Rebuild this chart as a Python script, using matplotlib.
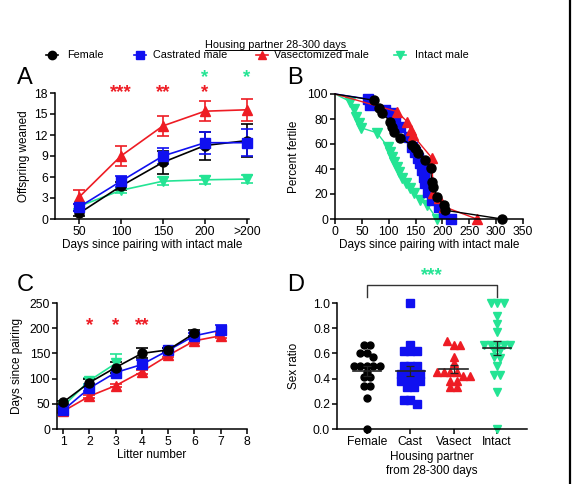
import matplotlib
matplotlib.use("Agg")
import matplotlib.pyplot as plt
from matplotlib.lines import Line2D
import numpy as np

plt.rcParams['font.family'] = ['Liberation Sans', 'DejaVu Sans']
plt.rcParams['font.size'] = 8.5

# colours / groups
groups = ["Female", "Castrated male", "Vasectomized male", "Intact male"]
colors = ["black", "#1010f0", "#ee1c24", "#24e494"]
markers = ["o", "s", "^", "v"]

# ---- panel A : offspring weaned
a_cats = ["50", "100", "150", "200", ">200"]
a_female = [0.8, 4.7, 8.1, 10.5, 11.2]
a_female_err = [0.4, 0.6, 1.6, 2.0, 2.4]
a_cast = [1.7, 5.4, 9.0, 10.9, 10.9]
a_cast_err = [0.5, 0.8, 1.2, 1.6, 1.9]
a_vasect = [3.1, 9.0, 13.3, 15.4, 15.6]
a_vasect_err = [1.0, 1.4, 1.4, 1.4, 1.6]
a_intact = [1.8, 4.1, 5.4, 5.6, 5.7]
a_intact_err = [0.3, 0.4, 0.6, 0.6, 0.6]

# ---- panel B : percent fertile (time, percent)
b_female_t = [0, 72, 81, 87, 103, 106, 109, 121, 143, 149, 155, 168, 178, 180, 183, 190, 202, 205, 311]
b_female_p = [100, 95, 89, 85, 78, 74, 70, 65, 59, 57, 53, 47, 41, 30, 26, 18, 11, 7, 0]
b_cast_t = [0, 62, 65, 94, 106, 112, 121, 137, 143, 149, 155, 158, 162, 165, 168, 174, 180, 193, 202, 216]
b_cast_p = [100, 96, 91, 87, 85, 78, 74, 66, 58, 54, 49, 45, 39, 34, 29, 22, 15, 10, 5, 0]
b_vasect_t = [0, 115, 134, 141, 145, 180, 183, 193, 202, 264]
b_vasect_p = [100, 86, 78, 71, 67, 49, 21, 17, 10, 0]
b_intact_t = [0, 28, 35, 40, 45, 48, 78, 98, 102, 106, 110, 115, 120, 125, 132, 140, 148, 158, 172, 190]
b_intact_p = [100, 94, 88, 82, 77, 73, 69, 58, 54, 50, 46, 42, 38, 33, 29, 25, 21, 15, 11, 0]

# ---- panel C : days since pairing per litter
c_female = [53, 92, 122, 150, 157, 190]
c_female_err = [3, 8, 10, 10, 4, 6]
c_cast = [37, 81, 112, 128, 156, 185, 196]
c_cast_err = [3, 5, 6, 8, 4, 5, 10]
c_vasect = [35, 65, 86, 114, 146, 175, 185]
c_vasect_err = [3, 3, 3, 4, 4, 5, 5]
c_intact = [45, 96, 130]
c_intact_err = [3, 6, 18]

# ---- panel D : sex ratio
d_cats = ["Female", "Cast", "Vasect", "Intact"]
d_female = [0.67, 0.67, 0.6, 0.6, 0.57, 0.5, 0.5, 0.5, 0.5, 0.5, 0.455, 0.41, 0.41, 0.34, 0.34, 0.25, 0.0]
d_cast = [1.0, 0.67, 0.62, 0.62, 0.62, 0.5, 0.5, 0.5, 0.44, 0.44, 0.44, 0.44,
          0.38, 0.38, 0.38, 0.38, 0.33, 0.33, 0.23, 0.23, 0.2]
d_vasect = [0.7, 0.67, 0.67, 0.57, 0.52, 0.45, 0.45, 0.45, 0.45, 0.42, 0.42, 0.38, 0.38, 0.33, 0.33]
d_intact = [1.0, 1.0, 1.0, 0.9, 0.83, 0.77, 0.67, 0.67, 0.67, 0.67, 0.67, 0.63, 0.63,
            0.57, 0.56, 0.5, 0.43, 0.43, 0.29, 0.0]


def style(ax):
    for s in ["top", "right"]:
        ax.spines[s].set_visible(False)
    for s in ["left", "bottom"]:
        ax.spines[s].set_linewidth(1.1)
    ax.tick_params(width=1.1, length=3.5, labelsize=8.7, pad=1.5)


def swarm(vals, spacing=0.15, tol=0.035):
    # spread equal-ish values sideways, like a prism scatter plot
    vals = np.asarray(vals)
    offs = np.zeros(len(vals))
    used = np.zeros(len(vals), bool)
    for i in range(len(vals)):
        if used[i]:
            continue
        idx = [j for j in range(len(vals)) if not used[j] and abs(vals[j] - vals[i]) < tol]
        n = len(idx)
        for k, j in enumerate(idx):
            offs[j] = (k - (n - 1) / 2) * spacing
            used[j] = True
    return offs


fig = plt.figure(figsize=(5.72, 4.84), dpi=100)
W, H = 572, 484


def add_ax(l, t, r, b):
    return fig.add_axes([l / W, 1 - b / H, (r - l) / W, (b - t) / H])


# ---------------- A
axA = add_ax(55, 93, 249, 219)
xa = np.arange(1, 6)
for vals, err, c, m in [(a_intact, a_intact_err, colors[3], markers[3]),
                        (a_vasect, a_vasect_err, colors[2], markers[2]),
                        (a_female, a_female_err, colors[0], markers[0]),
                        (a_cast, a_cast_err, colors[1], markers[1])]:
    axA.errorbar(xa, vals, yerr=err, color=c, marker=m, ms=6.5, lw=1.2,
                 capsize=4, capthick=1.2, elinewidth=1.2, clip_on=False)
axA.set_xlim(0.43, 5.05)
axA.set_ylim(0, 18)
axA.set_yticks(range(0, 19, 3))
axA.set_xticks(xa)
axA.set_xticklabels(a_cats)
axA.set_ylabel("Offspring weaned", fontsize=8.5)
axA.yaxis.set_label_coords(-0.129, 0.5)
axA.set_xlabel("Days since pairing with intact male", fontsize=8.5, labelpad=1)
style(axA)
for x, y, s, c in [(2, 18.0, "***", colors[2]), (3, 18.0, "**", colors[2]),
                   (4, 18.0, "*", colors[2]), (4, 20.2, "*", colors[3]),
                   (5, 20.2, "*", colors[3])]:
    axA.text(x, y, s, color=c, fontsize=13.5, fontweight="bold", ha="center",
             va="center", clip_on=False)

# ---------------- B
axB = add_ax(335, 94, 523, 219)
for t, p, c, m in [(b_intact_t, b_intact_p, colors[3], markers[3]),
                   (b_cast_t, b_cast_p, colors[1], markers[1]),
                   (b_vasect_t, b_vasect_p, colors[2], markers[2]),
                   (b_female_t, b_female_p, colors[0], markers[0])]:
    axB.plot(t, p, color=c, lw=1.0, clip_on=False)
    axB.plot(t[1:], p[1:], ls="none", color=c, marker=m, ms=6.5, clip_on=False)
axB.set_xlim(0, 350)
axB.set_ylim(0, 100)
axB.set_xticks(range(0, 351, 50))
axB.set_yticks(range(0, 101, 20))
axB.set_ylabel("Percent fertile", fontsize=8.5)
axB.yaxis.set_label_coords(-0.186, 0.5)
axB.set_xlabel("Days since pairing with intact male", fontsize=8.5, labelpad=1)
style(axB)

# ---------------- C
axC = add_ax(57, 303, 247, 429)
for vals, err, c, m in [(c_intact, c_intact_err, colors[3], markers[3]),
                        (c_vasect, c_vasect_err, colors[2], markers[2]),
                        (c_cast, c_cast_err, colors[1], markers[1]),
                        (c_female, c_female_err, colors[0], markers[0])]:
    xs = np.arange(1, len(vals) + 1)
    axC.errorbar(xs, vals, yerr=err, color=c, marker=m, ms=6.5, lw=1.2,
                 capsize=4, capthick=1.2, elinewidth=1.2, clip_on=False)
axC.set_xlim(0.77, 8)
axC.set_ylim(0, 250)
axC.set_xticks(range(1, 9))
axC.set_yticks(range(0, 251, 50))
axC.set_ylabel("Days since pairing", fontsize=8.5)
axC.yaxis.set_label_coords(-0.179, 0.5)
axC.set_xlabel("Litter number", fontsize=8.5, labelpad=1)
style(axC)
for x, s in [(2, "*"), (3, "*"), (4, "**")]:
    axC.text(x, 205, s, color=colors[2], fontsize=13.5, fontweight="bold",
             ha="center", va="center")

# ---------------- D
axD = add_ax(337, 303, 527, 429)
for i, (vals, c, m) in enumerate([(d_female, colors[0], "o"), (d_cast, colors[1], "s"),
                                  (d_vasect, colors[2], "^"), (d_intact, colors[3], "v")]):
    offs = swarm(vals)
    axD.plot(i + offs, vals, ls="none", marker=m, color=c, ms=5 if m == "o" else 5.5,
             clip_on=False)
    mean = np.mean(vals)
    sem = np.std(vals, ddof=1) / np.sqrt(len(vals))
    axD.plot([i - 0.33, i + 0.33], [mean, mean], color="#222222", lw=1.2, zorder=3)
    axD.errorbar(i, mean, yerr=sem, color="#222222", capsize=3, lw=0.9,
                 capthick=0.9, zorder=3)
axD.set_xlim(-0.69, 3.69)
axD.set_ylim(0, 1.0)
axD.set_xticks(range(4))
axD.set_xticklabels(d_cats)
axD.set_yticks(np.arange(0, 1.01, 0.2))
axD.set_yticklabels([f"{v:.1f}" for v in np.arange(0, 1.01, 0.2)])
axD.set_ylabel("Sex ratio", fontsize=8.5)
axD.yaxis.set_label_coords(-0.195, 0.5)
axD.set_xlabel("Housing partner\nfrom 28-300 days", fontsize=8.5, labelpad=2,
               linespacing=1.3)
style(axD)
axD.plot([0, 0, 3, 3], [1.05, 1.143, 1.143, 1.05], color="#333333", lw=1.0, clip_on=False)
axD.text(1.5, 1.22, "***", color=colors[3], fontsize=13.5, fontweight="bold",
         ha="center", va="center")

# panel letters
for x, y, s in [(25, 78, "A"), (295, 78, "B"), (25, 285, "C"), (296, 285, "D")]:
    fig.text(x / W, 1 - y / H, s, fontsize=17, ha="center", va="center")

# title + legend row (placed by hand, like the prism layout)
title = fig.text(276 / W, 1 - 45 / H, "Housing partner 28-300 days", fontsize=7.8,
                 ha="center", va="center")
leg_marker_x = [52, 140, 262, 400]
leg_text_x = [67, 153, 274, 415]
leg_y = 1 - 55 / H
for c, m, name, mx, tx in zip(colors, markers, groups, leg_marker_x, leg_text_x):
    fig.add_artist(Line2D([(mx - 6) / W, (mx + 6) / W], [leg_y, leg_y], color=c, lw=1.2,
                          transform=fig.transFigure))
    fig.add_artist(Line2D([mx / W], [leg_y], color=c, marker=m, ms=6,
                          transform=fig.transFigure))
    fig.text(tx / W, leg_y, name, fontsize=7.8, ha="left", va="center")

fig.canvas.draw()
bb = title.get_window_extent().transformed(fig.transFigure.inverted())
fig.add_artist(Line2D([bb.x0, bb.x1], [bb.y0 - 0.001, bb.y0 - 0.001], color="black",
                      lw=0.7, transform=fig.transFigure))
fig.add_artist(Line2D([570 / W, 570 / W], [0, 1], color="black", lw=1.6,
                      transform=fig.transFigure))

fig.savefig("out.png", dpi=100)
